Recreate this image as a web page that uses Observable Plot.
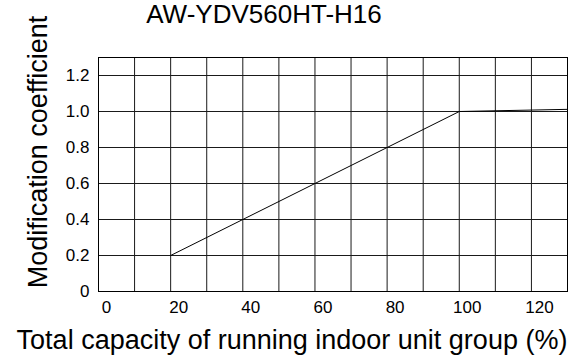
<!DOCTYPE html>
<html>
<head>
<meta charset="utf-8">
<script src="https://cdn.jsdelivr.net/npm/d3@7"></script>
<script src="https://cdn.jsdelivr.net/npm/@observablehq/plot@0.6"></script>
<style>
  html, body { margin: 0; padding: 0; background: #fff; }
  svg { display: block; }
</style>
</head>
<body>
<div id="chart"></div>
<script>
const title = "AW-YDV560HT-H16";
const xLabel = "Total capacity of running indoor unit group (%)";
const yLabel = "Modification coefficient";

const capacity = [20, 100, 130];
const coefficient = [0.2, 1.0, 1.012];

const xTicks = [0, 20, 40, 60, 80, 100, 120];
const xGrid = [0, 10, 20, 30, 40, 50, 60, 70, 80, 90, 100, 110, 120, 130];
const yTicks = [0, 0.2, 0.4, 0.6, 0.8, 1.0, 1.2];

const data = capacity.map((c, i) => ({x: c, y: coefficient[i]}));

const font = "'Liberation Sans', Arial, Helvetica, sans-serif";

const plot = Plot.plot({
  width: 579,
  height: 359,
  marginLeft: 98,
  marginRight: 12,
  marginTop: 57,
  marginBottom: 68,
  style: {fontFamily: font, color: "#000", background: "#fff"},
  x: {domain: [0, 130]},
  y: {domain: [0, 1.3]},
  marks: [
    Plot.gridX(xGrid, {stroke: "#1a1a1a", strokeOpacity: 1, strokeWidth: 1}),
    Plot.gridY(yTicks.filter(d => d > 0), {stroke: "#1a1a1a", strokeOpacity: 1, strokeWidth: 1}),
    Plot.frame({stroke: "#000", strokeWidth: 1}),
    Plot.line(data, {x: "x", y: "y", stroke: "#000", strokeWidth: 1}),
    Plot.axisX(xTicks, {tickSize: 0, tickPadding: 9, fontSize: 17, dx: 8, label: null, tickFormat: d => String(d)}),
    Plot.axisY(yTicks, {tickSize: 0, tickPadding: 9, fontSize: 17, label: null, tickFormat: d => d === 0 ? "0" : d.toFixed(1)}),
    Plot.text([xLabel], {frameAnchor: "bottom", text: d => d, fontSize: 27, dx: -41, dy: 48.5, lineAnchor: "middle", fill: "#000"}),
    Plot.text([yLabel], {frameAnchor: "left", text: d => d, fontSize: 27, rotate: -90, dx: -60.5, dy: -22.5, lineAnchor: "middle", textAnchor: "middle", fill: "#000"}),
    Plot.text([title], {frameAnchor: "top", text: d => d, fontSize: 26, dx: -69, dy: -42.5, lineAnchor: "middle", fill: "#000"})
  ]
});

document.getElementById("chart").appendChild(plot);
</script>
</body>
</html>
